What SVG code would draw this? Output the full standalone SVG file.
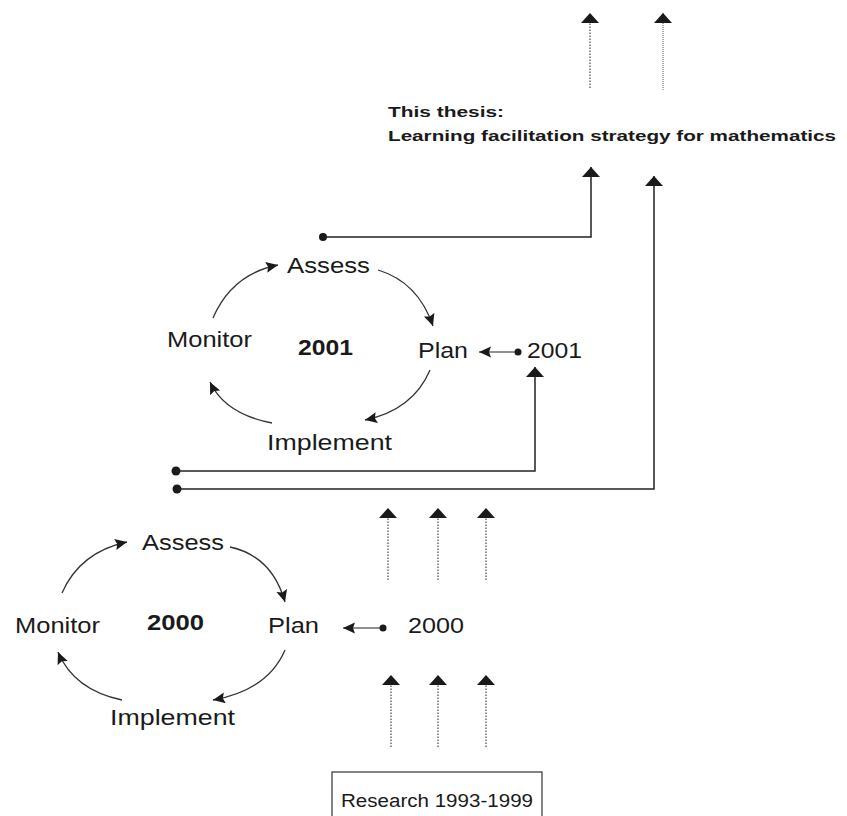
<svg xmlns="http://www.w3.org/2000/svg" width="847" height="816" viewBox="0 0 847 816">
<style>
.t{font-family:"Liberation Sans",Arial,sans-serif;font-size:22px;fill:#1a1a1a}
.b{font-weight:bold}
.th{font-family:"Liberation Sans",Arial,sans-serif;font-size:15px;font-weight:bold;fill:#1a1a1a}
.arc{fill:none;stroke:#333;stroke-width:1.3;marker-end:url(#ah)}
.ln{fill:none;stroke:#222;stroke-width:1.5}
.dot{fill:none;stroke:#555;stroke-width:1.3;stroke-dasharray:1.5,1.5}
</style>
<defs>
<marker id="ah" refX="12" refY="5.5" markerWidth="14" markerHeight="12" markerUnits="userSpaceOnUse" orient="auto">
<path d="M0,0 L12,5.5 L0,11 L2,5.5 Z" fill="#1a1a1a"/>
</marker>
<marker id="up" refX="10" refY="9" markerWidth="12" markerHeight="19" markerUnits="userSpaceOnUse" orient="auto">
<path d="M0,0 L10,9 L0,18 Z" fill="#1a1a1a"/>
</marker>
</defs>

<g id="thesis">
<text class="th" x="388" y="117" textLength="116" lengthAdjust="spacingAndGlyphs">This thesis:</text>
<text class="th" x="388" y="141" textLength="448" lengthAdjust="spacingAndGlyphs">Learning  facilitation strategy for mathematics</text>
</g>

<g id="cycle-2001">
<g id="assess-2001"><text class="t" x="287" y="273" textLength="83" lengthAdjust="spacingAndGlyphs">Assess</text></g>
<g id="monitor-2001"><text class="t" x="167" y="347" textLength="85" lengthAdjust="spacingAndGlyphs">Monitor</text></g>
<g id="year-2001"><text class="t b" x="298" y="355" textLength="55" lengthAdjust="spacingAndGlyphs">2001</text></g>
<g id="plan-2001"><text class="t" x="418" y="358" textLength="50" lengthAdjust="spacingAndGlyphs">Plan</text></g>
<g id="implement-2001"><text class="t" x="267" y="450" textLength="125" lengthAdjust="spacingAndGlyphs">Implement</text></g>
</g>
<g id="input-2001"><text class="t" x="527" y="358" textLength="55" lengthAdjust="spacingAndGlyphs">2001</text></g>

<g id="cycle-2000">
<g id="assess-2000"><text class="t" x="142" y="550" textLength="82" lengthAdjust="spacingAndGlyphs">Assess</text></g>
<g id="monitor-2000"><text class="t" x="15" y="633" textLength="85" lengthAdjust="spacingAndGlyphs">Monitor</text></g>
<g id="year-2000"><text class="t b" x="147" y="630" textLength="57" lengthAdjust="spacingAndGlyphs">2000</text></g>
<g id="plan-2000"><text class="t" x="268" y="633" textLength="51" lengthAdjust="spacingAndGlyphs">Plan</text></g>
<g id="implement-2000"><text class="t" x="110" y="725" textLength="125" lengthAdjust="spacingAndGlyphs">Implement</text></g>
</g>
<g id="input-2000"><text class="t" x="408" y="633" textLength="56" lengthAdjust="spacingAndGlyphs">2000</text></g>

<g id="research">
<rect x="332" y="772" width="210" height="60" fill="none" stroke="#333" stroke-width="1.2"/>
<text class="t" style="font-size:18px" x="341" y="807" textLength="192" lengthAdjust="spacingAndGlyphs">Research 1993-1999</text>
</g>

<g id="connectors">
<!-- cycle 2001 -->
<path class="arc" d="M213,318 Q232,274 278,265"/>
<path class="arc" d="M378,270 Q418,282 433,326"/>
<path class="arc" d="M430,370 Q413,410 365,420"/>
<path class="arc" d="M272,423 Q225,414 210,382"/>
<!-- cycle 2000 -->
<path class="arc" d="M62,593 Q80,552 127,542"/>
<path class="arc" d="M230,547 Q272,556 285,602"/>
<path class="arc" d="M285,650 Q268,690 213,700"/>
<path class="arc" d="M122,700 Q74,690 58,652"/>
<!-- input arrows -->
<circle cx="518" cy="352" r="3.5" fill="#1a1a1a"/>
<path class="ln" d="M518,352 H479" style="stroke-width:1.2" marker-end="url(#ah)"/>
<circle cx="383" cy="628" r="3.5" fill="#1a1a1a"/>
<path class="ln" d="M383,628 H343" style="stroke-width:1.2" marker-end="url(#ah)"/>
<!-- feedback lines -->
<circle cx="323" cy="237" r="4" fill="#1a1a1a"/>
<path class="ln" d="M323,237 H591 V167" marker-end="url(#up)"/>
<circle cx="176" cy="471" r="4.5" fill="#1a1a1a"/>
<path class="ln" d="M176,471 H535 V367" marker-end="url(#up)"/>
<circle cx="177" cy="489" r="4.5" fill="#1a1a1a"/>
<path class="ln" d="M177,489 H654 V176" marker-end="url(#up)"/>
<!-- top dotted arrows -->
<path class="dot" d="M590,88 V13" marker-end="url(#up)"/>
<path class="dot" d="M663,90 V13" style="stroke-dasharray:1,1;stroke-width:1" marker-end="url(#up)"/>
<!-- middle dotted arrows -->
<path class="dot" d="M388,580 V508" marker-end="url(#up)"/>
<path class="dot" d="M438,580 V508" marker-end="url(#up)"/>
<path class="dot" d="M486,580 V508" marker-end="url(#up)"/>
<!-- bottom dotted arrows -->
<path class="dot" d="M391,747 V675" marker-end="url(#up)"/>
<path class="dot" d="M438,747 V675" marker-end="url(#up)"/>
<path class="dot" d="M486,747 V675" marker-end="url(#up)"/>
</g>
</svg>
